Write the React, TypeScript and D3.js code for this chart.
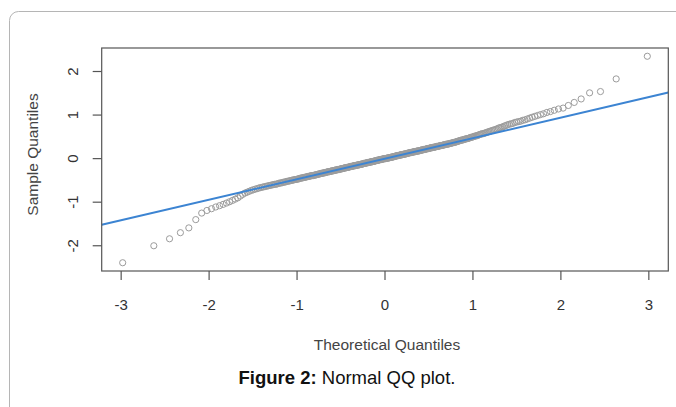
import React from 'react';
import * as d3 from 'd3';

// sorted sample values (n = 350)
const sample: number[] = [
  -2.39, -2.0, -1.84, -1.7, -1.59, -1.4, -1.25, -1.19, -1.15, -1.11,
  -1.08, -1.05, -1.02, -0.99, -0.96, -0.93, -0.9, -0.86, -0.82, -0.79,
  -0.77, -0.75, -0.73, -0.715, -0.7, -0.69, -0.675, -0.665, -0.656, -0.647,
  -0.639, -0.63, -0.622, -0.614, -0.606,
  -0.6, -0.59, -0.59, -0.58, -0.57,
  -0.56, -0.56, -0.55, -0.54, -0.54,
  -0.53, -0.52, -0.52, -0.51, -0.505,
  -0.5, -0.49, -0.49, -0.48, -0.48, -0.47, -0.47, -0.46, -0.45, -0.45,
  -0.44, -0.44, -0.43, -0.43, -0.42, -0.42, -0.41, -0.41, -0.4, -0.4,
  -0.39, -0.39, -0.39, -0.38, -0.38, -0.37, -0.37, -0.36, -0.36, -0.35,
  -0.35, -0.34, -0.34, -0.33, -0.33, -0.33, -0.32, -0.32, -0.31, -0.31,
  -0.3, -0.3, -0.3, -0.29, -0.29, -0.28, -0.28, -0.28, -0.27, -0.27,
  -0.26, -0.26, -0.26, -0.25, -0.25, -0.25, -0.24, -0.24, -0.23, -0.23,
  -0.23, -0.22, -0.22, -0.21, -0.21, -0.21, -0.2, -0.2, -0.2, -0.19,
  -0.19, -0.18, -0.18, -0.18, -0.17, -0.17, -0.17, -0.16, -0.16, -0.16,
  -0.15, -0.15, -0.15, -0.14, -0.14, -0.14, -0.13, -0.13, -0.13, -0.12,
  -0.12, -0.11, -0.11, -0.11, -0.1, -0.1, -0.1, -0.09, -0.09, -0.09,
  -0.08, -0.08, -0.08, -0.07, -0.07, -0.07, -0.06, -0.06, -0.06, -0.05,
  -0.05, -0.04, -0.04, -0.04, -0.03, -0.03, -0.03, -0.02, -0.02, -0.02,
  -0.01, -0.01, -0.01, 0.0, 0.0, 0.0, 0.0, 0.01, 0.01, 0.01,
  0.02, 0.02, 0.02, 0.03, 0.03, 0.03, 0.04, 0.04, 0.04, 0.05,
  0.05, 0.06, 0.06, 0.06, 0.07, 0.07, 0.07, 0.08, 0.08, 0.08,
  0.09, 0.09, 0.09, 0.1, 0.1, 0.1, 0.11, 0.11, 0.11, 0.12,
  0.12, 0.13, 0.13, 0.13, 0.14, 0.14, 0.14, 0.15, 0.15, 0.15,
  0.16, 0.16, 0.16, 0.17, 0.17, 0.17, 0.18, 0.18, 0.18, 0.19,
  0.19, 0.2, 0.2, 0.2, 0.21, 0.21, 0.21, 0.22, 0.22, 0.23,
  0.23, 0.23, 0.24, 0.24, 0.25, 0.25, 0.25, 0.26, 0.26, 0.26,
  0.27, 0.27, 0.28, 0.28, 0.28, 0.29, 0.29, 0.3, 0.3, 0.3,
  0.31, 0.31, 0.32, 0.32, 0.33, 0.33, 0.33, 0.34, 0.34, 0.35,
  0.35, 0.36, 0.36, 0.37, 0.37, 0.38, 0.38, 0.39, 0.4, 0.4,
  0.41, 0.42, 0.42, 0.43, 0.43, 0.44, 0.45, 0.45, 0.46, 0.46,
  0.47, 0.48, 0.49, 0.49, 0.5, 0.51, 0.52, 0.52, 0.53, 0.54,
  0.55, 0.56, 0.57, 0.57, 0.58,
  0.59, 0.6, 0.61, 0.62, 0.63,
  0.64, 0.65, 0.66, 0.67, 0.68,
  0.7, 0.71, 0.72, 0.73, 0.75, 0.76, 0.78, 0.79, 0.8, 0.81,
  0.83, 0.84, 0.85, 0.86, 0.88, 0.89, 0.91, 0.93, 0.95, 0.97,
  0.99, 1.01, 1.03, 1.06, 1.08, 1.11, 1.14, 1.16, 1.22, 1.29,
  1.37, 1.51, 1.54, 1.83, 2.35,
];

const xTicks = [-3, -2, -1, 0, 1, 2, 3];
const yTicks = [-2, -1, 0, 1, 2];

const xTitle = 'Theoretical Quantiles';
const yTitle = 'Sample Quantiles';
const captionBold = 'Figure 2:';
const captionRest = ' Normal QQ plot.';

// inverse normal CDF (Acklam's approximation)
function qnorm(p: number): number {
  const a = [-3.969683028665376e1, 2.209460984245205e2, -2.759285104469687e2, 1.38357751867269e2, -3.066479806614716e1, 2.506628277459239];
  const b = [-5.447609879822406e1, 1.615858368580409e2, -1.556989798598866e2, 6.680131188771972e1, -1.328068155288572e1];
  const c = [-7.784894002430293e-3, -3.223964580411365e-1, -2.400758277161838, -2.549732539343734, 4.374664141464968, 2.938163982698783];
  const d = [7.784695709041462e-3, 3.224671290700398e-1, 2.445134137142996, 3.754408661907416];
  const plow = 0.02425;
  if (p < plow) {
    const q = Math.sqrt(-2 * Math.log(p));
    return (((((c[0] * q + c[1]) * q + c[2]) * q + c[3]) * q + c[4]) * q + c[5]) /
      ((((d[0] * q + d[1]) * q + d[2]) * q + d[3]) * q + 1);
  }
  if (p > 1 - plow) return -qnorm(1 - p);
  const q = p - 0.5;
  const r = q * q;
  return (((((a[0] * r + a[1]) * r + a[2]) * r + a[3]) * r + a[4]) * r + a[5]) * q /
    (((((b[0] * r + b[1]) * r + b[2]) * r + b[3]) * r + b[4]) * r + 1);
}

const FONT = '"Liberation Sans", Arial, sans-serif';

export default function App() {
  const width = 676;
  const height = 407;
  const box = { left: 101.7, right: 668.3, top: 48, bottom: 271 };

  const n = sample.length;
  const pts = sample.map((s, i) => ({ t: qnorm((i + 1 - 0.5) / n), s }));

  const padRange = (ext: [number, number]) => {
    const p = 0.04 * (ext[1] - ext[0]);
    return [ext[0] - p, ext[1] + p];
  };
  const x = d3.scaleLinear()
    .domain(padRange(d3.extent(pts, d => d.t) as [number, number]))
    .range([box.left, box.right]);
  const y = d3.scaleLinear()
    .domain(padRange(d3.extent(pts, d => d.s) as [number, number]))
    .range([box.bottom, box.top]);

  // qqline through the quartiles
  const q1 = d3.quantile(sample, 0.25) as number;
  const q3 = d3.quantile(sample, 0.75) as number;
  const slope = (q3 - q1) / (qnorm(0.75) - qnorm(0.25));
  const intercept = q1 - slope * qnorm(0.25);
  const [x0, x1] = x.domain();
  const linePath = d3.line<number>()
    .x(d => x(d))
    .y(d => y(intercept + slope * d))([x0, x1]);

  return (
    <svg width={width} height={height} style={{ position: 'absolute', left: 0, top: 0, background: '#fff' }}>
      <rect x={9.5} y={11.5} width={720} height={460} rx={9} fill="#fff" stroke="#b5b5b5" strokeWidth={1} />
      <defs>
        <clipPath id="plotclip">
          <rect x={box.left} y={box.top} width={box.right - box.left} height={box.bottom - box.top} />
        </clipPath>
      </defs>

      <g clipPath="url(#plotclip)">
        {pts.map((d, i) => (
          <circle key={i} cx={x(d.t)} cy={y(d.s)} r={3.1} fill="none" stroke="#9c9c9c" strokeWidth={1} />
        ))}
        <path d={linePath || ''} fill="none" stroke="#3c84d2" strokeWidth={2} />
      </g>

      <rect x={box.left} y={box.top} width={box.right - box.left} height={box.bottom - box.top}
        fill="none" stroke="#555" strokeWidth={1.2} />

      {xTicks.map(t => (
        <g key={t} transform={`translate(${x(t)},${box.bottom})`}>
          <line y1={0} y2={9} stroke="#555" strokeWidth={1.2} />
          <text y={39} textAnchor="middle" fontFamily={FONT} fontSize={15} fill="#333">{t}</text>
        </g>
      ))}
      {yTicks.map(t => (
        <g key={t} transform={`translate(${box.left},${y(t)})`}>
          <line x1={0} x2={-9} stroke="#555" strokeWidth={1.2} />
          <text transform="translate(-29,0) rotate(-90)" textAnchor="middle" dy="0.35em"
            fontFamily={FONT} fontSize={15} fill="#333">{t}</text>
        </g>
      ))}

      <text x={387} y={350} textAnchor="middle" fontFamily={FONT} fontSize={15.5} fill="#444">{xTitle}</text>
      <text transform={`translate(38,${(box.top + box.bottom) / 2 - 5}) rotate(-90)`} textAnchor="middle"
        fontFamily={FONT} fontSize={15.5} fill="#444">{yTitle}</text>

      <text x={347} y={383.5} textAnchor="middle" fontFamily={FONT} fontSize={18.5} fill="#111">
        <tspan fontWeight="bold">{captionBold}</tspan>
        <tspan>{captionRest}</tspan>
      </text>
    </svg>
  );
}
